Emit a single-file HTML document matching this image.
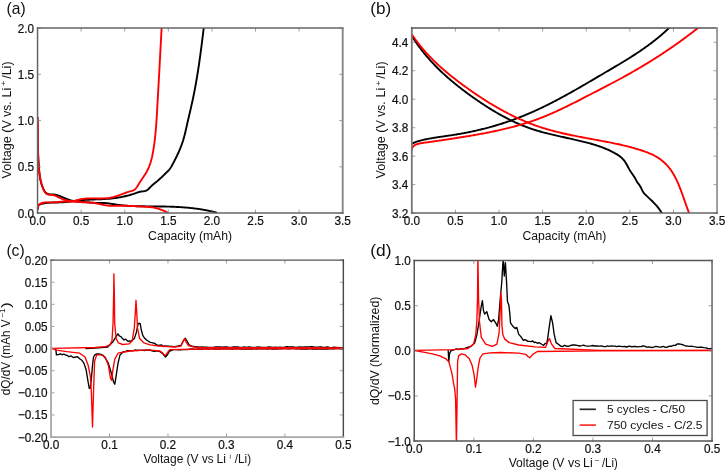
<!DOCTYPE html>
<html><head><meta charset="utf-8"><style>html,body{margin:0;padding:0;background:#fff;width:725px;height:471px;overflow:hidden}</style></head><body>
<svg style="display:block;will-change:transform;filter:blur(0.3px)" width="725" height="471" viewBox="0 0 725 471">
<rect width="725" height="471" fill="#fff"/>
<defs>
<clipPath id="ca"><rect x="37.55" y="28.05" width="305.15" height="185.04999999999998"/></clipPath>
<clipPath id="cb"><rect x="411.8" y="28.05" width="305.24999999999994" height="185.04999999999998"/></clipPath>
<clipPath id="cc"><rect x="51.05" y="260.1" width="292.3" height="176.95"/></clipPath>
<clipPath id="cd"><rect x="414.25" y="260.6" width="297.79999999999995" height="180.45"/></clipPath>
</defs>
<g fill="none" stroke-linejoin="round" stroke-linecap="round">
<g clip-path="url(#ca)" stroke-width="1.9">
<path d="M37.50,117.60 L37.50,118.44 L37.50,119.27 L37.49,120.11 L37.49,120.95 L37.49,121.78 L37.49,122.62 L37.50,123.46 L37.50,124.29 L37.50,125.13 L37.50,125.96 L37.51,126.79 L37.51,127.63 L37.52,128.46 L37.52,129.30 L37.53,130.13 L37.54,130.96 L37.55,131.79 L37.56,132.63 L37.57,133.46 L37.58,134.29 L37.59,135.12 L37.60,135.95 L37.62,136.79 L37.63,137.62 L37.65,138.45 L37.66,139.28 L37.68,140.11 L37.70,140.94 L37.72,141.77 L37.74,142.60 L37.76,143.43 L37.79,144.26 L37.81,145.09 L37.84,145.93 L37.86,146.76 L37.89,147.59 L37.92,148.42 L37.95,149.25 L37.98,150.08 L38.01,150.91 L38.04,151.74 L38.08,152.57 L38.11,153.40 L38.15,154.23 L38.19,155.06 L38.23,155.89 L38.27,156.72 L38.31,157.55 L38.35,158.38 L38.40,159.21 L38.44,160.04 L38.49,160.88 L38.54,161.71 L38.59,162.54 L38.64,163.37 L38.69,164.20 L38.75,165.03 L38.80,165.87 L38.86,166.70 L38.92,167.53 L38.98,168.36 L39.05,169.20 L39.11,170.03 L39.19,170.86 L39.26,171.69 L39.34,172.53 L39.43,173.36 L39.53,174.18 L39.63,175.01 L39.74,175.84 L39.86,176.66 L39.99,177.49 L40.13,178.31 L40.29,179.13 L40.45,179.95 L40.63,180.76 L40.82,181.58 L41.03,182.39 L41.25,183.19 L41.48,184.00 L41.74,184.80 L42.01,185.60 L42.30,186.40 L42.60,187.19 L42.93,187.97 L43.28,188.76 L43.64,189.53 L44.04,190.29 L44.47,191.01 L44.93,191.69 L45.43,192.31 L45.98,192.86 L46.57,193.33 L47.22,193.71 L47.93,193.99 L48.68,194.17 L49.48,194.29 L50.31,194.35 L51.16,194.39 L52.02,194.42 L52.87,194.46 L53.72,194.54 L54.56,194.65 L55.38,194.80 L56.20,194.98 L57.00,195.19 L57.80,195.43 L58.59,195.69 L59.38,195.96 L60.16,196.26 L60.94,196.56 L61.71,196.88 L62.49,197.20 L63.26,197.52 L64.03,197.85 L64.81,198.17 L65.59,198.49 L66.37,198.79 L67.15,199.09 L67.94,199.38 L68.73,199.65 L69.52,199.91 L70.32,200.14 L71.12,200.36 L71.92,200.56 L72.73,200.75 L73.54,200.91 L74.35,201.07 L75.17,201.21 L75.99,201.33 L76.81,201.45 L77.63,201.55 L78.46,201.65 L79.28,201.73 L80.11,201.81 L80.94,201.88 L81.77,201.95 L82.61,202.01 L83.44,202.06 L84.27,202.12 L85.10,202.17 L85.94,202.22 L86.77,202.27 L87.60,202.33 L88.44,202.39 L89.27,202.44 L90.10,202.51 L90.93,202.58 L91.76,202.65 L92.59,202.72 L93.42,202.79 L94.24,202.86 L95.07,202.91 L95.90,202.96 L96.73,202.99 L97.57,203.00 L98.40,203.01 L99.23,203.00 L100.07,202.98 L100.90,202.97 L101.74,202.96 L102.57,202.96 L103.40,202.97 L104.23,203.00 L105.06,203.05 L105.89,203.13 L106.71,203.21 L107.54,203.31 L108.36,203.42 L109.18,203.54 L110.01,203.66 L110.83,203.78 L111.65,203.90 L112.48,204.01 L113.30,204.13 L114.13,204.25 L114.95,204.37 L115.78,204.48 L116.60,204.60 L117.43,204.71 L118.25,204.82 L119.08,204.92 L119.91,205.03 L120.73,205.13 L121.56,205.23 L122.39,205.32 L123.22,205.41 L124.05,205.50 L124.87,205.58 L125.70,205.65 L126.53,205.72 L127.36,205.79 L128.19,205.85 L129.02,205.90 L129.85,205.95 L130.68,206.00 L131.51,206.04 L132.34,206.07 L133.17,206.11 L134.00,206.14 L134.83,206.16 L135.66,206.19 L136.49,206.21 L137.33,206.23 L138.16,206.24 L138.99,206.26 L139.82,206.27 L140.65,206.28 L141.49,206.29 L142.32,206.30 L143.15,206.30 L143.99,206.31 L144.82,206.32 L145.65,206.33 L146.49,206.33 L147.32,206.34 L148.15,206.35 L148.99,206.35 L149.82,206.36 L150.66,206.36 L151.49,206.37 L152.32,206.38 L153.16,206.38 L153.99,206.39 L154.83,206.40 L155.66,206.41 L156.50,206.41 L157.33,206.42 L158.17,206.43 L159.00,206.44 L159.84,206.46 L160.67,206.47 L161.50,206.48 L162.34,206.49 L163.17,206.51 L164.01,206.52 L164.84,206.54 L165.68,206.56 L166.51,206.58 L167.35,206.60 L168.18,206.62 L169.01,206.65 L169.85,206.67 L170.68,206.70 L171.51,206.73 L172.35,206.76 L173.18,206.79 L174.01,206.82 L174.85,206.86 L175.68,206.90 L176.51,206.94 L177.34,206.98 L178.17,207.02 L179.01,207.07 L179.84,207.12 L180.67,207.17 L181.50,207.22 L182.33,207.28 L183.16,207.34 L183.99,207.40 L184.82,207.46 L185.65,207.53 L186.48,207.60 L187.31,207.67 L188.13,207.75 L188.96,207.82 L189.79,207.91 L190.62,207.99 L191.44,208.08 L192.27,208.17 L193.10,208.26 L193.92,208.36 L194.75,208.46 L195.57,208.57 L196.39,208.67 L197.22,208.79 L198.04,208.90 L198.86,209.02 L199.69,209.14 L200.51,209.27 L201.33,209.40 L202.15,209.54 L202.97,209.68 L203.79,209.82 L204.61,209.97 L205.43,210.12 L206.24,210.27 L207.06,210.43 L207.88,210.60 L208.69,210.77 L209.51,210.94 L210.32,211.12 L211.14,211.30 L211.95,211.49 L212.76,211.69 L213.58,211.88 L214.39,212.09 L215.20,212.29 L216.01,212.51" stroke="#000"/>
<path d="M37.80,208.82 L37.70,207.48 L37.89,206.42 L38.31,205.60 L38.93,204.97 L39.69,204.51 L40.55,204.16 L41.48,203.89 L42.42,203.66 L43.36,203.46 L44.32,203.28 L45.27,203.12 L46.23,202.99 L47.20,202.88 L48.17,202.78 L49.14,202.71 L50.11,202.64 L51.09,202.59 L52.07,202.55 L53.05,202.52 L54.03,202.49 L55.01,202.47 L56.00,202.46 L56.98,202.44 L57.97,202.43 L58.95,202.41 L59.94,202.39 L60.92,202.37 L61.90,202.33 L62.89,202.29 L63.86,202.24 L64.84,202.17 L65.82,202.09 L66.79,202.00 L67.76,201.90 L68.73,201.80 L69.70,201.68 L70.66,201.56 L71.63,201.43 L72.59,201.31 L73.56,201.18 L74.52,201.04 L75.49,200.91 L76.45,200.79 L77.42,200.66 L78.38,200.54 L79.35,200.43 L80.32,200.32 L81.29,200.22 L82.26,200.13 L83.23,200.05 L84.20,199.97 L85.17,199.90 L86.15,199.84 L87.12,199.78 L88.10,199.72 L89.07,199.68 L90.05,199.63 L91.03,199.59 L92.01,199.55 L92.98,199.51 L93.96,199.48 L94.94,199.45 L95.92,199.41 L96.90,199.38 L97.88,199.34 L98.86,199.31 L99.84,199.27 L100.82,199.23 L101.79,199.19 L102.77,199.15 L103.75,199.10 L104.73,199.05 L105.70,198.99 L106.68,198.92 L107.65,198.85 L108.63,198.78 L109.60,198.69 L110.57,198.60 L111.55,198.50 L112.52,198.40 L113.48,198.28 L114.45,198.16 L115.42,198.03 L116.38,197.89 L117.35,197.74 L118.31,197.58 L119.27,197.42 L120.23,197.25 L121.19,197.06 L122.14,196.87 L123.09,196.67 L124.04,196.47 L124.99,196.25 L125.94,196.03 L126.89,195.79 L127.83,195.55 L128.77,195.30 L129.70,195.04 L130.64,194.77 L131.57,194.49 L132.50,194.20 L133.43,193.91 L134.35,193.60 L135.27,193.29 L136.19,192.96 L137.11,192.63 L138.02,192.30 L138.95,192.00 L139.89,191.75 L140.85,191.56 L141.83,191.44 L142.82,191.35 L143.80,191.25 L144.75,191.09 L145.66,190.85 L146.51,190.48 L147.30,189.99 L148.05,189.40 L148.77,188.74 L149.47,188.03 L150.16,187.30 L150.86,186.56 L151.57,185.85 L152.30,185.18 L153.04,184.54 L153.80,183.91 L154.56,183.30 L155.33,182.70 L156.09,182.09 L156.85,181.48 L157.60,180.86 L158.34,180.22 L159.07,179.58 L159.79,178.93 L160.51,178.27 L161.23,177.61 L161.94,176.94 L162.64,176.26 L163.35,175.58 L164.05,174.90 L164.75,174.22 L165.45,173.53 L166.15,172.85 L166.85,172.16 L167.54,171.47 L168.22,170.77 L168.87,170.05 L169.49,169.30 L170.07,168.53 L170.62,167.73 L171.14,166.91 L171.63,166.07 L172.10,165.22 L172.57,164.36 L173.03,163.50 L173.49,162.63 L173.95,161.77 L174.40,160.90 L174.85,160.03 L175.30,159.16 L175.74,158.28 L176.17,157.41 L176.60,156.53 L177.03,155.65 L177.44,154.76 L177.86,153.88 L178.27,152.99 L178.67,152.10 L179.06,151.20 L179.45,150.31 L179.83,149.41 L180.20,148.50 L180.56,147.60 L180.92,146.69 L181.27,145.78 L181.61,144.87 L181.94,143.95 L182.26,143.03 L182.57,142.10 L182.87,141.18 L183.17,140.25 L183.45,139.31 L183.72,138.38 L183.98,137.44 L184.24,136.50 L184.49,135.55 L184.73,134.61 L184.97,133.66 L185.20,132.71 L185.43,131.76 L185.65,130.81 L185.87,129.86 L186.08,128.90 L186.30,127.95 L186.51,126.99 L186.72,126.04 L186.93,125.08 L187.15,124.13 L187.36,123.17 L187.58,122.22 L187.80,121.27 L188.01,120.31 L188.23,119.36 L188.46,118.41 L188.68,117.46 L188.90,116.51 L189.12,115.56 L189.35,114.61 L189.57,113.66 L189.79,112.71 L190.02,111.76 L190.24,110.81 L190.46,109.86 L190.68,108.91 L190.90,107.96 L191.12,107.01 L191.33,106.06 L191.55,105.11 L191.76,104.15 L191.97,103.20 L192.18,102.25 L192.39,101.30 L192.60,100.34 L192.80,99.39 L193.00,98.43 L193.20,97.48 L193.39,96.52 L193.59,95.57 L193.78,94.61 L193.97,93.65 L194.16,92.70 L194.35,91.74 L194.53,90.78 L194.72,89.82 L194.90,88.86 L195.08,87.90 L195.26,86.94 L195.43,85.98 L195.61,85.02 L195.78,84.06 L195.95,83.10 L196.12,82.14 L196.29,81.17 L196.46,80.21 L196.62,79.25 L196.79,78.28 L196.95,77.32 L197.11,76.36 L197.27,75.39 L197.42,74.43 L197.58,73.46 L197.73,72.50 L197.89,71.53 L198.04,70.57 L198.19,69.60 L198.34,68.64 L198.49,67.67 L198.63,66.71 L198.78,65.74 L198.92,64.77 L199.06,63.81 L199.21,62.84 L199.35,61.87 L199.49,60.90 L199.62,59.94 L199.76,58.97 L199.90,58.00 L200.03,57.03 L200.17,56.06 L200.30,55.10 L200.43,54.13 L200.56,53.16 L200.69,52.19 L200.82,51.22 L200.95,50.25 L201.08,49.29 L201.20,48.32 L201.33,47.35 L201.45,46.38 L201.58,45.41 L201.70,44.44 L201.83,43.47 L201.95,42.50 L202.07,41.53 L202.19,40.57 L202.31,39.60 L202.43,38.63 L202.55,37.66 L202.67,36.69 L202.79,35.72 L202.90,34.75 L203.02,33.78 L203.14,32.82 L203.25,31.85 L203.37,30.88 L203.48,29.91 L203.60,28.94 L203.71,27.97 L203.83,27.01" stroke="#000"/>
<path d="M37.49,117.60 L37.54,118.26 L37.58,118.91 L37.62,119.57 L37.65,120.23 L37.68,120.89 L37.71,121.55 L37.74,122.21 L37.77,122.88 L37.79,123.54 L37.81,124.20 L37.83,124.87 L37.85,125.54 L37.87,126.20 L37.88,126.87 L37.90,127.54 L37.91,128.21 L37.92,128.88 L37.93,129.55 L37.94,130.22 L37.94,130.89 L37.95,131.57 L37.95,132.24 L37.96,132.91 L37.96,133.59 L37.96,134.26 L37.96,134.94 L37.96,135.61 L37.96,136.29 L37.96,136.97 L37.96,137.64 L37.96,138.32 L37.96,139.00 L37.95,139.68 L37.95,140.36 L37.95,141.04 L37.95,141.71 L37.95,142.39 L37.95,143.07 L37.95,143.75 L37.95,144.43 L37.95,145.11 L37.95,145.79 L37.95,146.47 L37.95,147.15 L37.95,147.83 L37.96,148.51 L37.96,149.19 L37.97,149.87 L37.97,150.55 L37.98,151.23 L37.99,151.90 L38.00,152.58 L38.02,153.26 L38.03,153.94 L38.05,154.62 L38.06,155.30 L38.08,155.97 L38.10,156.65 L38.13,157.33 L38.15,158.00 L38.18,158.68 L38.21,159.35 L38.24,160.03 L38.27,160.70 L38.31,161.37 L38.35,162.05 L38.39,162.72 L38.44,163.39 L38.48,164.06 L38.53,164.73 L38.59,165.40 L38.64,166.07 L38.70,166.74 L38.76,167.41 L38.83,168.07 L38.90,168.74 L38.97,169.40 L39.04,170.07 L39.12,170.73 L39.21,171.39 L39.29,172.05 L39.38,172.71 L39.48,173.37 L39.58,174.03 L39.68,174.69 L39.78,175.34 L39.90,176.00 L40.01,176.65 L40.13,177.30 L40.25,177.95 L40.38,178.60 L40.52,179.25 L40.65,179.90 L40.80,180.54 L40.94,181.19 L41.10,181.83 L41.26,182.48 L41.43,183.12 L41.60,183.77 L41.79,184.42 L41.98,185.07 L42.18,185.72 L42.39,186.37 L42.61,187.03 L42.85,187.70 L43.09,188.36 L43.35,189.03 L43.62,189.70 L43.92,190.36 L44.23,191.00 L44.57,191.61 L44.93,192.18 L45.33,192.71 L45.76,193.18 L46.22,193.60 L46.73,193.95 L47.27,194.23 L47.85,194.45 L48.46,194.61 L49.10,194.73 L49.76,194.81 L50.44,194.87 L51.12,194.92 L51.81,194.98 L52.50,195.05 L53.17,195.16 L53.83,195.31 L54.48,195.49 L55.11,195.71 L55.74,195.96 L56.36,196.22 L56.98,196.50 L57.59,196.78 L58.20,197.07 L58.81,197.36 L59.42,197.65 L60.03,197.94 L60.64,198.22 L61.26,198.50 L61.88,198.77 L62.50,199.04 L63.12,199.29 L63.74,199.53 L64.38,199.75 L65.01,199.97 L65.65,200.16 L66.29,200.35 L66.94,200.52 L67.59,200.68 L68.25,200.83 L68.90,200.96 L69.56,201.09 L70.22,201.21 L70.89,201.31 L71.55,201.41 L72.22,201.50 L72.89,201.58 L73.56,201.66 L74.23,201.73 L74.90,201.79 L75.57,201.85 L76.24,201.90 L76.91,201.94 L77.59,201.99 L78.26,202.03 L78.93,202.06 L79.61,202.09 L80.28,202.12 L80.96,202.15 L81.63,202.18 L82.30,202.21 L82.98,202.23 L83.65,202.26 L84.33,202.28 L85.00,202.31 L85.67,202.34 L86.35,202.37 L87.02,202.40 L87.69,202.43 L88.36,202.47 L89.03,202.51 L89.70,202.56 L90.37,202.61 L91.04,202.66 L91.71,202.72 L92.38,202.79 L93.04,202.86 L93.71,202.94 L94.37,203.03 L95.04,203.12 L95.70,203.22 L96.36,203.34 L97.02,203.46 L97.68,203.59 L98.34,203.72 L98.99,203.87 L99.65,204.02 L100.30,204.17 L100.96,204.32 L101.61,204.47 L102.27,204.63 L102.92,204.77 L103.58,204.92 L104.23,205.06 L104.89,205.19 L105.55,205.31 L106.20,205.42 L106.86,205.52 L107.53,205.60 L108.19,205.67 L108.85,205.73 L109.52,205.77 L110.18,205.81 L110.85,205.83 L111.52,205.85 L112.19,205.86 L112.86,205.86 L113.53,205.86 L114.20,205.85 L114.87,205.84 L115.54,205.83 L116.22,205.82 L116.89,205.80 L117.56,205.79 L118.23,205.78 L118.91,205.77 L119.58,205.76 L120.25,205.75 L120.93,205.75 L121.60,205.75 L122.27,205.75 L122.94,205.76 L123.62,205.76 L124.29,205.77 L124.96,205.78 L125.63,205.79 L126.31,205.81 L126.98,205.82 L127.65,205.84 L128.32,205.86 L129.00,205.88 L129.67,205.90 L130.34,205.93 L131.01,205.95 L131.68,205.98 L132.36,206.01 L133.03,206.04 L133.70,206.07 L134.37,206.10 L135.05,206.13 L135.72,206.17 L136.39,206.21 L137.06,206.24 L137.73,206.28 L138.40,206.32 L139.08,206.36 L139.75,206.40 L140.42,206.45 L141.09,206.49 L141.76,206.53 L142.43,206.58 L143.10,206.62 L143.78,206.67 L144.45,206.72 L145.12,206.76 L145.79,206.81 L146.46,206.86 L147.13,206.91 L147.80,206.96 L148.47,207.01 L149.14,207.06 L149.81,207.11 L150.48,207.17 L151.15,207.23 L151.82,207.31 L152.48,207.39 L153.15,207.48 L153.81,207.59 L154.47,207.71 L155.13,207.84 L155.78,207.99 L156.43,208.16 L157.08,208.34 L157.73,208.53 L158.37,208.74 L159.01,208.95 L159.65,209.18 L160.28,209.41 L160.92,209.66 L161.55,209.91 L162.18,210.16 L162.80,210.42 L163.42,210.69 L164.04,210.96 L164.66,211.22 L165.27,211.49 L165.88,211.76 L166.49,212.03 L167.10,212.30" stroke="#f00"/>
<path d="M37.74,208.81 L37.78,207.73 L37.98,206.78 L38.30,205.94 L38.74,205.21 L39.27,204.58 L39.87,204.05 L40.55,203.61 L41.27,203.25 L42.05,202.97 L42.88,202.75 L43.74,202.59 L44.63,202.48 L45.56,202.41 L46.50,202.37 L47.46,202.35 L48.43,202.36 L49.40,202.37 L50.37,202.38 L51.34,202.38 L52.29,202.36 L53.22,202.33 L54.14,202.28 L55.05,202.23 L55.95,202.16 L56.84,202.08 L57.73,202.00 L58.61,201.92 L59.48,201.84 L60.36,201.76 L61.23,201.68 L62.11,201.62 L62.99,201.56 L63.88,201.52 L64.77,201.50 L65.67,201.48 L66.57,201.47 L67.47,201.46 L68.38,201.45 L69.28,201.42 L70.19,201.37 L71.09,201.31 L71.98,201.21 L72.87,201.09 L73.76,200.93 L74.64,200.74 L75.52,200.54 L76.39,200.32 L77.27,200.10 L78.14,199.87 L79.01,199.65 L79.89,199.45 L80.77,199.26 L81.65,199.10 L82.54,198.95 L83.43,198.83 L84.32,198.72 L85.22,198.63 L86.12,198.56 L87.02,198.50 L87.92,198.45 L88.82,198.42 L89.73,198.40 L90.64,198.38 L91.55,198.38 L92.45,198.38 L93.36,198.38 L94.27,198.39 L95.18,198.40 L96.09,198.41 L97.00,198.43 L97.91,198.44 L98.82,198.44 L99.73,198.45 L100.63,198.45 L101.54,198.44 L102.44,198.42 L103.34,198.40 L104.23,198.36 L105.13,198.31 L106.02,198.25 L106.91,198.18 L107.79,198.09 L108.68,197.98 L109.55,197.85 L110.43,197.70 L111.30,197.53 L112.16,197.35 L113.02,197.14 L113.88,196.92 L114.74,196.68 L115.60,196.43 L116.45,196.16 L117.30,195.88 L118.15,195.59 L119.00,195.28 L119.85,194.97 L120.70,194.66 L121.55,194.34 L122.40,194.02 L123.25,193.70 L124.10,193.38 L124.95,193.07 L125.80,192.76 L126.65,192.46 L127.51,192.17 L128.37,191.89 L129.23,191.62 L130.09,191.38 L130.95,191.14 L131.81,190.90 L132.63,190.63 L133.42,190.30 L134.15,189.90 L134.82,189.41 L135.44,188.84 L136.01,188.20 L136.55,187.51 L137.06,186.78 L137.55,186.01 L138.03,185.22 L138.51,184.43 L138.99,183.64 L139.48,182.86 L139.98,182.08 L140.49,181.31 L140.99,180.55 L141.50,179.79 L142.01,179.03 L142.52,178.27 L143.03,177.52 L143.53,176.76 L144.03,176.01 L144.52,175.25 L145.01,174.49 L145.48,173.73 L145.95,172.96 L146.40,172.19 L146.84,171.41 L147.26,170.62 L147.66,169.83 L148.05,169.03 L148.42,168.22 L148.78,167.40 L149.12,166.58 L149.44,165.75 L149.75,164.91 L150.05,164.07 L150.33,163.22 L150.60,162.37 L150.86,161.51 L151.10,160.64 L151.34,159.77 L151.56,158.90 L151.78,158.03 L151.98,157.15 L152.18,156.27 L152.36,155.38 L152.54,154.49 L152.72,153.61 L152.88,152.71 L153.04,151.82 L153.20,150.93 L153.35,150.04 L153.50,149.15 L153.64,148.25 L153.78,147.36 L153.91,146.47 L154.04,145.57 L154.17,144.68 L154.29,143.79 L154.41,142.89 L154.52,142.00 L154.64,141.10 L154.74,140.21 L154.85,139.32 L154.95,138.42 L155.05,137.53 L155.15,136.63 L155.24,135.74 L155.34,134.84 L155.42,133.95 L155.51,133.05 L155.59,132.16 L155.67,131.26 L155.75,130.37 L155.83,129.47 L155.91,128.58 L155.98,127.68 L156.05,126.79 L156.12,125.89 L156.18,125.00 L156.25,124.10 L156.31,123.21 L156.38,122.31 L156.44,121.41 L156.50,120.52 L156.56,119.62 L156.61,118.72 L156.67,117.83 L156.72,116.93 L156.78,116.04 L156.83,115.14 L156.89,114.24 L156.94,113.35 L156.99,112.45 L157.04,111.55 L157.09,110.65 L157.15,109.76 L157.20,108.86 L157.25,107.96 L157.30,107.06 L157.35,106.17 L157.40,105.27 L157.45,104.37 L157.50,103.47 L157.55,102.58 L157.60,101.68 L157.66,100.78 L157.71,99.88 L157.76,98.99 L157.81,98.09 L157.86,97.19 L157.91,96.29 L157.96,95.39 L158.01,94.49 L158.06,93.60 L158.11,92.70 L158.16,91.80 L158.21,90.90 L158.26,90.00 L158.31,89.10 L158.36,88.20 L158.41,87.31 L158.46,86.41 L158.51,85.51 L158.56,84.61 L158.61,83.71 L158.66,82.81 L158.71,81.91 L158.76,81.01 L158.81,80.12 L158.86,79.22 L158.91,78.32 L158.96,77.42 L159.01,76.52 L159.06,75.62 L159.11,74.72 L159.16,73.82 L159.21,72.92 L159.26,72.02 L159.31,71.13 L159.35,70.23 L159.40,69.33 L159.45,68.43 L159.50,67.53 L159.55,66.63 L159.60,65.73 L159.65,64.83 L159.70,63.93 L159.75,63.03 L159.80,62.14 L159.84,61.24 L159.89,60.34 L159.94,59.44 L159.99,58.54 L160.04,57.64 L160.09,56.74 L160.13,55.84 L160.18,54.94 L160.23,54.05 L160.28,53.15 L160.33,52.25 L160.38,51.35 L160.42,50.45 L160.47,49.55 L160.52,48.65 L160.57,47.76 L160.62,46.86 L160.66,45.96 L160.71,45.06 L160.76,44.16 L160.81,43.26 L160.85,42.37 L160.90,41.47 L160.95,40.57 L161.00,39.67 L161.04,38.77 L161.09,37.88 L161.14,36.98 L161.19,36.08 L161.23,35.18 L161.28,34.28 L161.33,33.39 L161.37,32.49 L161.42,31.59 L161.47,30.69 L161.51,29.80 L161.56,28.90 L161.61,28.00" stroke="#f00"/>
</g>
<g clip-path="url(#cb)" stroke-width="1.9">
<path d="M411.89,35.93 L412.45,36.84 L413.02,37.75 L413.60,38.66 L414.18,39.56 L414.77,40.45 L415.36,41.34 L415.96,42.23 L416.56,43.11 L417.17,43.99 L417.79,44.86 L418.41,45.73 L419.03,46.59 L419.66,47.45 L420.30,48.30 L420.94,49.15 L421.59,49.99 L422.24,50.83 L422.90,51.67 L423.56,52.50 L424.23,53.32 L424.90,54.15 L425.58,54.97 L426.26,55.78 L426.95,56.59 L427.64,57.39 L428.33,58.20 L429.03,58.99 L429.74,59.79 L430.45,60.58 L431.16,61.36 L431.88,62.14 L432.60,62.92 L433.33,63.69 L434.06,64.46 L434.79,65.23 L435.53,65.99 L436.28,66.74 L437.02,67.50 L437.77,68.25 L438.53,69.00 L439.29,69.74 L440.05,70.48 L440.82,71.21 L441.59,71.94 L442.36,72.67 L443.14,73.40 L443.92,74.12 L444.70,74.84 L445.49,75.55 L446.28,76.26 L447.08,76.97 L447.88,77.67 L448.68,78.37 L449.48,79.07 L450.29,79.77 L451.10,80.46 L451.91,81.14 L452.73,81.83 L453.55,82.51 L454.37,83.19 L455.20,83.86 L456.03,84.54 L456.86,85.21 L457.69,85.87 L458.53,86.54 L459.37,87.20 L460.21,87.85 L461.05,88.51 L461.90,89.16 L462.75,89.81 L463.60,90.46 L464.45,91.10 L465.31,91.74 L466.16,92.38 L467.02,93.02 L467.88,93.65 L468.75,94.28 L469.61,94.91 L470.48,95.53 L471.35,96.16 L472.22,96.78 L473.09,97.40 L473.97,98.01 L474.84,98.62 L475.72,99.24 L476.60,99.84 L477.48,100.45 L478.36,101.06 L479.25,101.66 L480.13,102.26 L481.02,102.85 L481.91,103.45 L482.80,104.04 L483.69,104.63 L484.59,105.21 L485.48,105.79 L486.38,106.37 L487.28,106.95 L488.18,107.52 L489.08,108.09 L489.99,108.66 L490.89,109.22 L491.80,109.78 L492.71,110.33 L493.62,110.88 L494.54,111.43 L495.45,111.97 L496.37,112.51 L497.29,113.05 L498.21,113.58 L499.14,114.11 L500.06,114.63 L500.99,115.15 L501.92,115.66 L502.85,116.17 L503.79,116.68 L504.73,117.18 L505.66,117.67 L506.60,118.17 L507.55,118.65 L508.49,119.13 L509.44,119.61 L510.39,120.08 L511.34,120.55 L512.30,121.01 L513.25,121.46 L514.21,121.91 L515.17,122.36 L516.14,122.79 L517.11,123.23 L518.07,123.65 L519.05,124.07 L520.02,124.49 L521.00,124.90 L521.97,125.30 L522.96,125.70 L523.94,126.09 L524.93,126.48 L525.91,126.85 L526.91,127.23 L527.90,127.59 L528.90,127.95 L529.90,128.30 L530.90,128.65 L531.90,128.99 L532.91,129.32 L533.92,129.65 L534.93,129.97 L535.95,130.28 L536.97,130.59 L537.98,130.89 L539.01,131.19 L540.03,131.48 L541.05,131.77 L542.08,132.06 L543.11,132.33 L544.14,132.61 L545.17,132.88 L546.21,133.15 L547.24,133.41 L548.28,133.67 L549.31,133.93 L550.35,134.18 L551.39,134.43 L552.43,134.68 L553.48,134.93 L554.52,135.17 L555.56,135.41 L556.61,135.65 L557.65,135.89 L558.70,136.12 L559.75,136.36 L560.79,136.59 L561.84,136.82 L562.89,137.05 L563.93,137.28 L564.98,137.52 L566.03,137.75 L567.08,137.98 L568.13,138.21 L569.17,138.44 L570.22,138.67 L571.27,138.90 L572.31,139.13 L573.36,139.37 L574.41,139.61 L575.45,139.84 L576.49,140.08 L577.54,140.32 L578.58,140.57 L579.62,140.81 L580.66,141.06 L581.70,141.31 L582.74,141.56 L583.78,141.82 L584.81,142.08 L585.84,142.35 L586.88,142.61 L587.91,142.89 L588.94,143.16 L589.96,143.45 L590.99,143.73 L592.01,144.03 L593.03,144.33 L594.05,144.63 L595.06,144.94 L596.07,145.26 L597.08,145.59 L598.09,145.92 L599.09,146.27 L600.09,146.62 L601.09,146.97 L602.08,147.34 L603.07,147.72 L604.06,148.10 L605.04,148.50 L606.02,148.90 L606.99,149.32 L607.96,149.74 L608.93,150.18 L609.89,150.63 L610.85,151.09 L611.80,151.56 L612.75,152.05 L613.70,152.54 L614.63,153.05 L615.57,153.57 L616.49,154.11 L617.41,154.67 L618.30,155.25 L619.18,155.85 L620.03,156.48 L620.86,157.13 L621.66,157.82 L622.42,158.55 L623.14,159.31 L623.82,160.11 L624.46,160.95 L625.07,161.82 L625.64,162.72 L626.19,163.65 L626.72,164.59 L627.23,165.54 L627.74,166.50 L628.25,167.46 L628.77,168.42 L629.30,169.36 L629.84,170.28 L630.41,171.19 L630.99,172.07 L631.59,172.95 L632.19,173.81 L632.80,174.68 L633.40,175.55 L633.98,176.42 L634.55,177.31 L635.10,178.22 L635.61,179.15 L636.10,180.11 L636.60,181.06 L637.14,181.97 L637.75,182.83 L638.39,183.67 L639.02,184.51 L639.62,185.38 L640.18,186.28 L640.71,187.21 L641.20,188.16 L641.66,189.13 L642.12,190.09 L642.60,191.05 L643.13,191.96 L643.73,192.83 L644.39,193.65 L645.12,194.42 L645.88,195.17 L646.65,195.90 L647.43,196.63 L648.22,197.37 L649.00,198.10 L649.78,198.83 L650.55,199.57 L651.33,200.31 L652.09,201.05 L652.85,201.80 L653.60,202.56 L654.34,203.33 L655.07,204.10 L655.79,204.88 L656.50,205.68 L657.19,206.49 L657.86,207.31 L658.52,208.14 L659.15,208.99 L659.77,209.85 L660.37,210.74 L660.94,211.64 L661.49,212.56 L662.01,213.50" stroke="#000"/>
<path d="M411.80,143.92 L412.58,143.47 L413.37,143.06 L414.19,142.67 L415.03,142.31 L415.88,141.97 L416.75,141.65 L417.63,141.35 L418.53,141.07 L419.43,140.81 L420.34,140.56 L421.26,140.33 L422.19,140.10 L423.12,139.89 L424.05,139.68 L424.99,139.48 L425.93,139.29 L426.87,139.10 L427.81,138.92 L428.75,138.74 L429.69,138.56 L430.63,138.39 L431.58,138.23 L432.52,138.07 L433.47,137.91 L434.42,137.75 L435.36,137.60 L436.31,137.45 L437.26,137.31 L438.21,137.16 L439.16,137.02 L440.12,136.88 L441.07,136.74 L442.02,136.60 L442.97,136.46 L443.93,136.33 L444.88,136.19 L445.83,136.05 L446.79,135.92 L447.74,135.78 L448.69,135.64 L449.65,135.50 L450.60,135.36 L451.55,135.22 L452.50,135.07 L453.46,134.93 L454.41,134.78 L455.36,134.63 L456.31,134.47 L457.26,134.31 L458.21,134.15 L459.16,133.99 L460.11,133.83 L461.06,133.66 L462.01,133.49 L462.95,133.31 L463.90,133.14 L464.85,132.96 L465.79,132.77 L466.74,132.59 L467.68,132.40 L468.63,132.21 L469.57,132.02 L470.51,131.82 L471.45,131.63 L472.40,131.42 L473.34,131.22 L474.28,131.01 L475.22,130.81 L476.15,130.59 L477.09,130.38 L478.03,130.16 L478.97,129.94 L479.90,129.72 L480.84,129.49 L481.77,129.26 L482.71,129.03 L483.64,128.80 L484.57,128.56 L485.50,128.32 L486.43,128.08 L487.36,127.83 L488.29,127.58 L489.22,127.33 L490.15,127.08 L491.07,126.82 L492.00,126.56 L492.92,126.30 L493.84,126.03 L494.77,125.77 L495.69,125.49 L496.61,125.22 L497.53,124.94 L498.45,124.66 L499.37,124.38 L500.28,124.10 L501.20,123.81 L502.12,123.52 L503.03,123.23 L503.94,122.93 L504.85,122.63 L505.77,122.33 L506.68,122.02 L507.58,121.72 L508.49,121.41 L509.40,121.09 L510.31,120.78 L511.21,120.46 L512.11,120.13 L513.02,119.81 L513.92,119.48 L514.82,119.15 L515.72,118.82 L516.61,118.48 L517.51,118.14 L518.41,117.80 L519.30,117.46 L520.19,117.11 L521.09,116.76 L521.98,116.40 L522.87,116.05 L523.76,115.69 L524.64,115.32 L525.53,114.96 L526.41,114.59 L527.30,114.22 L528.18,113.85 L529.06,113.47 L529.94,113.09 L530.82,112.71 L531.70,112.32 L532.57,111.94 L533.45,111.55 L534.32,111.16 L535.20,110.76 L536.07,110.36 L536.94,109.96 L537.81,109.56 L538.68,109.16 L539.55,108.75 L540.41,108.34 L541.28,107.93 L542.14,107.52 L543.01,107.10 L543.87,106.68 L544.73,106.26 L545.59,105.84 L546.45,105.41 L547.31,104.99 L548.17,104.56 L549.03,104.13 L549.89,103.70 L550.74,103.26 L551.60,102.83 L552.45,102.39 L553.30,101.95 L554.16,101.51 L555.01,101.06 L555.86,100.62 L556.71,100.17 L557.56,99.72 L558.41,99.27 L559.25,98.82 L560.10,98.37 L560.95,97.91 L561.79,97.46 L562.64,97.00 L563.48,96.54 L564.33,96.08 L565.17,95.62 L566.01,95.15 L566.86,94.69 L567.70,94.22 L568.54,93.76 L569.38,93.29 L570.22,92.82 L571.06,92.35 L571.90,91.88 L572.73,91.41 L573.57,90.93 L574.41,90.46 L575.25,89.98 L576.08,89.51 L576.92,89.03 L577.75,88.55 L578.59,88.07 L579.42,87.59 L580.26,87.11 L581.09,86.63 L581.93,86.15 L582.76,85.67 L583.59,85.18 L584.42,84.70 L585.26,84.22 L586.09,83.73 L586.92,83.25 L587.75,82.76 L588.58,82.28 L589.41,81.79 L590.24,81.30 L591.07,80.82 L591.90,80.33 L592.73,79.84 L593.56,79.35 L594.39,78.87 L595.22,78.38 L596.05,77.89 L596.88,77.40 L597.71,76.91 L598.54,76.43 L599.37,75.94 L600.20,75.45 L601.03,74.96 L601.86,74.47 L602.69,73.99 L603.51,73.50 L604.34,73.01 L605.17,72.52 L606.00,72.04 L606.83,71.55 L607.66,71.06 L608.49,70.58 L609.32,70.09 L610.14,69.60 L610.97,69.11 L611.80,68.63 L612.63,68.14 L613.45,67.65 L614.28,67.16 L615.11,66.67 L615.93,66.18 L616.76,65.69 L617.58,65.20 L618.40,64.71 L619.23,64.22 L620.05,63.72 L620.87,63.23 L621.69,62.73 L622.51,62.24 L623.33,61.74 L624.15,61.24 L624.97,60.74 L625.78,60.24 L626.60,59.73 L627.41,59.23 L628.23,58.72 L629.04,58.22 L629.85,57.71 L630.66,57.20 L631.47,56.68 L632.28,56.17 L633.08,55.65 L633.89,55.14 L634.69,54.61 L635.50,54.09 L636.30,53.57 L637.10,53.04 L637.89,52.51 L638.69,51.98 L639.49,51.45 L640.28,50.91 L641.07,50.37 L641.86,49.83 L642.65,49.29 L643.43,48.74 L644.22,48.19 L645.00,47.64 L645.78,47.09 L646.56,46.53 L647.34,45.97 L648.11,45.41 L648.89,44.84 L649.66,44.27 L650.43,43.70 L651.19,43.12 L651.96,42.54 L652.72,41.96 L653.48,41.37 L654.24,40.78 L654.99,40.19 L655.75,39.59 L656.50,38.99 L657.25,38.38 L657.99,37.78 L658.74,37.16 L659.48,36.55 L660.21,35.93 L660.95,35.30 L661.68,34.67 L662.41,34.04 L663.14,33.40 L663.87,32.76 L664.59,32.11 L665.31,31.46 L666.02,30.81 L666.74,30.15 L667.45,29.48 L668.15,28.81 L668.86,28.14 L669.56,27.46" stroke="#000"/>
<path d="M411.88,34.45 L412.54,35.43 L413.20,36.40 L413.87,37.36 L414.54,38.32 L415.22,39.27 L415.91,40.21 L416.61,41.15 L417.31,42.08 L418.02,43.01 L418.73,43.93 L419.45,44.84 L420.18,45.75 L420.91,46.65 L421.65,47.55 L422.40,48.44 L423.15,49.32 L423.91,50.20 L424.67,51.07 L425.44,51.94 L426.22,52.80 L427.00,53.66 L427.79,54.51 L428.58,55.35 L429.38,56.19 L430.18,57.03 L430.99,57.86 L431.80,58.68 L432.62,59.50 L433.44,60.32 L434.27,61.13 L435.10,61.94 L435.94,62.74 L436.78,63.53 L437.62,64.32 L438.47,65.11 L439.33,65.89 L440.19,66.67 L441.05,67.45 L441.92,68.22 L442.79,68.98 L443.67,69.74 L444.54,70.50 L445.43,71.26 L446.31,72.01 L447.20,72.75 L448.10,73.49 L449.00,74.23 L449.90,74.97 L450.80,75.70 L451.71,76.43 L452.62,77.15 L453.53,77.87 L454.45,78.59 L455.37,79.31 L456.29,80.02 L457.21,80.73 L458.14,81.43 L459.07,82.14 L460.00,82.84 L460.94,83.53 L461.87,84.23 L462.81,84.92 L463.76,85.61 L464.70,86.30 L465.64,86.98 L466.59,87.66 L467.54,88.34 L468.49,89.02 L469.44,89.69 L470.40,90.36 L471.35,91.03 L472.31,91.70 L473.27,92.37 L474.23,93.03 L475.20,93.69 L476.16,94.34 L477.13,94.99 L478.10,95.64 L479.07,96.29 L480.05,96.93 L481.02,97.57 L482.00,98.21 L482.98,98.85 L483.96,99.48 L484.94,100.10 L485.93,100.73 L486.92,101.35 L487.91,101.97 L488.90,102.58 L489.89,103.19 L490.89,103.79 L491.88,104.40 L492.88,105.00 L493.88,105.59 L494.89,106.18 L495.89,106.77 L496.90,107.35 L497.91,107.93 L498.92,108.50 L499.94,109.07 L500.95,109.64 L501.97,110.20 L502.99,110.76 L504.01,111.31 L505.04,111.86 L506.06,112.40 L507.09,112.94 L508.12,113.47 L509.16,114.00 L510.19,114.53 L511.23,115.05 L512.27,115.56 L513.31,116.07 L514.35,116.58 L515.40,117.08 L516.45,117.57 L517.50,118.06 L518.55,118.54 L519.61,119.02 L520.67,119.50 L521.73,119.96 L522.79,120.43 L523.85,120.88 L524.92,121.34 L525.99,121.78 L527.06,122.22 L528.13,122.66 L529.21,123.09 L530.29,123.51 L531.37,123.92 L532.45,124.34 L533.54,124.74 L534.62,125.14 L535.71,125.53 L536.81,125.92 L537.90,126.30 L539.00,126.67 L540.10,127.04 L541.20,127.40 L542.30,127.75 L543.41,128.10 L544.52,128.45 L545.63,128.78 L546.74,129.11 L547.86,129.44 L548.98,129.76 L550.09,130.07 L551.22,130.38 L552.34,130.69 L553.46,130.99 L554.59,131.28 L555.72,131.57 L556.85,131.86 L557.98,132.14 L559.11,132.41 L560.24,132.69 L561.38,132.95 L562.52,133.22 L563.65,133.48 L564.79,133.74 L565.93,133.99 L567.08,134.24 L568.22,134.49 L569.36,134.73 L570.50,134.98 L571.65,135.21 L572.80,135.45 L573.94,135.68 L575.09,135.92 L576.24,136.14 L577.38,136.37 L578.53,136.60 L579.68,136.82 L580.83,137.04 L581.98,137.26 L583.13,137.48 L584.28,137.70 L585.43,137.91 L586.58,138.13 L587.73,138.34 L588.88,138.55 L590.03,138.77 L591.18,138.98 L592.33,139.19 L593.48,139.40 L594.63,139.61 L595.78,139.83 L596.93,140.04 L598.08,140.25 L599.23,140.46 L600.37,140.67 L601.52,140.89 L602.66,141.10 L603.81,141.32 L604.95,141.54 L606.10,141.75 L607.24,141.97 L608.38,142.19 L609.52,142.42 L610.66,142.64 L611.80,142.87 L612.93,143.10 L614.07,143.33 L615.21,143.57 L616.34,143.81 L617.47,144.05 L618.61,144.30 L619.74,144.55 L620.87,144.80 L622.00,145.06 L623.13,145.32 L624.26,145.59 L625.38,145.86 L626.51,146.13 L627.64,146.41 L628.76,146.70 L629.88,146.99 L631.01,147.29 L632.13,147.60 L633.25,147.91 L634.37,148.22 L635.49,148.55 L636.60,148.88 L637.72,149.22 L638.84,149.56 L639.95,149.91 L641.06,150.27 L642.18,150.64 L643.29,151.02 L644.40,151.40 L645.50,151.80 L646.60,152.21 L647.70,152.63 L648.79,153.06 L649.87,153.51 L650.94,153.98 L652.00,154.46 L653.05,154.96 L654.09,155.48 L655.11,156.02 L656.12,156.58 L657.12,157.17 L658.10,157.77 L659.06,158.41 L660.00,159.06 L660.93,159.74 L661.83,160.44 L662.72,161.17 L663.59,161.92 L664.44,162.69 L665.27,163.48 L666.09,164.29 L666.88,165.12 L667.65,165.98 L668.40,166.85 L669.13,167.74 L669.84,168.65 L670.53,169.58 L671.19,170.53 L671.84,171.49 L672.47,172.47 L673.08,173.46 L673.67,174.46 L674.25,175.48 L674.80,176.51 L675.35,177.55 L675.88,178.60 L676.39,179.66 L676.90,180.73 L677.39,181.80 L677.87,182.88 L678.33,183.96 L678.79,185.05 L679.24,186.14 L679.68,187.24 L680.11,188.33 L680.54,189.43 L680.95,190.53 L681.36,191.63 L681.77,192.73 L682.17,193.83 L682.57,194.93 L682.96,196.03 L683.35,197.14 L683.74,198.24 L684.12,199.34 L684.50,200.44 L684.89,201.54 L685.27,202.63 L685.66,203.73 L686.04,204.82 L686.43,205.91 L686.82,206.99 L687.21,208.08 L687.60,209.16 L688.00,210.23 L688.41,211.31 L688.82,212.37 L689.24,213.44" stroke="#f00"/>
<path d="M411.50,150.54 L411.68,149.46 L411.97,148.49 L412.37,147.63 L412.87,146.87 L413.46,146.21 L414.13,145.63 L414.88,145.12 L415.70,144.69 L416.58,144.32 L417.51,144.00 L418.48,143.73 L419.50,143.50 L420.54,143.30 L421.60,143.13 L422.68,142.96 L423.76,142.81 L424.84,142.66 L425.92,142.51 L427.00,142.35 L428.08,142.20 L429.15,142.05 L430.23,141.90 L431.30,141.74 L432.37,141.59 L433.44,141.44 L434.51,141.28 L435.57,141.13 L436.64,140.98 L437.70,140.82 L438.77,140.67 L439.83,140.52 L440.89,140.36 L441.95,140.21 L443.01,140.05 L444.06,139.89 L445.12,139.74 L446.18,139.58 L447.23,139.42 L448.28,139.26 L449.34,139.10 L450.39,138.95 L451.44,138.79 L452.49,138.62 L453.54,138.46 L454.59,138.30 L455.64,138.14 L456.69,137.97 L457.74,137.81 L458.79,137.64 L459.84,137.48 L460.89,137.31 L461.94,137.14 L462.98,136.97 L464.03,136.80 L465.08,136.63 L466.13,136.46 L467.18,136.29 L468.22,136.11 L469.27,135.94 L470.32,135.76 L471.37,135.58 L472.41,135.40 L473.46,135.22 L474.51,135.04 L475.56,134.85 L476.60,134.67 L477.65,134.48 L478.70,134.29 L479.74,134.10 L480.79,133.91 L481.83,133.72 L482.88,133.52 L483.92,133.33 L484.97,133.13 L486.01,132.92 L487.06,132.72 L488.10,132.52 L489.14,132.31 L490.19,132.10 L491.23,131.89 L492.27,131.67 L493.31,131.46 L494.35,131.24 L495.39,131.02 L496.43,130.79 L497.47,130.57 L498.51,130.34 L499.54,130.11 L500.58,129.87 L501.62,129.63 L502.65,129.40 L503.69,129.15 L504.72,128.91 L505.75,128.66 L506.78,128.41 L507.82,128.15 L508.85,127.90 L509.88,127.64 L510.90,127.37 L511.93,127.11 L512.96,126.84 L513.98,126.56 L515.01,126.29 L516.03,126.01 L517.05,125.72 L518.07,125.44 L519.09,125.15 L520.11,124.85 L521.13,124.56 L522.15,124.25 L523.16,123.95 L524.18,123.64 L525.19,123.33 L526.20,123.01 L527.21,122.69 L528.22,122.37 L529.23,122.04 L530.24,121.70 L531.24,121.37 L532.24,121.03 L533.25,120.68 L534.25,120.33 L535.25,119.98 L536.24,119.62 L537.24,119.26 L538.24,118.89 L539.23,118.52 L540.22,118.14 L541.21,117.76 L542.20,117.37 L543.18,116.99 L544.17,116.59 L545.15,116.19 L546.14,115.79 L547.12,115.38 L548.10,114.97 L549.07,114.56 L550.05,114.14 L551.03,113.72 L552.00,113.30 L552.97,112.87 L553.95,112.43 L554.92,112.00 L555.89,111.56 L556.85,111.12 L557.82,110.68 L558.79,110.23 L559.75,109.78 L560.72,109.33 L561.68,108.87 L562.64,108.41 L563.60,107.95 L564.56,107.49 L565.52,107.03 L566.48,106.56 L567.44,106.09 L568.39,105.62 L569.35,105.15 L570.30,104.67 L571.26,104.20 L572.21,103.72 L573.17,103.24 L574.12,102.76 L575.07,102.28 L576.02,101.80 L576.97,101.31 L577.92,100.83 L578.87,100.34 L579.82,99.86 L580.77,99.37 L581.72,98.88 L582.66,98.40 L583.61,97.91 L584.56,97.42 L585.51,96.93 L586.45,96.44 L587.40,95.95 L588.35,95.46 L589.29,94.97 L590.24,94.49 L591.18,94.00 L592.13,93.51 L593.07,93.02 L594.02,92.53 L594.96,92.05 L595.91,91.56 L596.85,91.07 L597.80,90.59 L598.74,90.10 L599.68,89.61 L600.63,89.12 L601.57,88.63 L602.51,88.15 L603.46,87.66 L604.40,87.17 L605.34,86.68 L606.28,86.19 L607.22,85.70 L608.16,85.21 L609.10,84.71 L610.04,84.22 L610.98,83.73 L611.92,83.23 L612.86,82.74 L613.79,82.24 L614.73,81.74 L615.67,81.25 L616.60,80.75 L617.54,80.24 L618.47,79.74 L619.41,79.24 L620.34,78.73 L621.27,78.23 L622.20,77.72 L623.13,77.21 L624.07,76.70 L625.00,76.19 L625.92,75.67 L626.85,75.16 L627.78,74.64 L628.71,74.12 L629.63,73.60 L630.56,73.08 L631.48,72.55 L632.41,72.03 L633.33,71.50 L634.25,70.97 L635.17,70.44 L636.09,69.91 L637.01,69.37 L637.93,68.83 L638.85,68.30 L639.77,67.76 L640.68,67.21 L641.60,66.67 L642.51,66.12 L643.42,65.58 L644.33,65.03 L645.25,64.48 L646.16,63.93 L647.06,63.37 L647.97,62.82 L648.88,62.26 L649.78,61.70 L650.69,61.14 L651.59,60.57 L652.50,60.01 L653.40,59.44 L654.30,58.88 L655.20,58.31 L656.10,57.73 L656.99,57.16 L657.89,56.58 L658.78,56.01 L659.68,55.43 L660.57,54.85 L661.46,54.27 L662.35,53.68 L663.24,53.10 L664.13,52.51 L665.01,51.92 L665.90,51.33 L666.78,50.74 L667.66,50.14 L668.54,49.54 L669.42,48.95 L670.30,48.35 L671.18,47.75 L672.06,47.14 L672.93,46.54 L673.80,45.93 L674.67,45.32 L675.55,44.71 L676.41,44.10 L677.28,43.48 L678.15,42.87 L679.01,42.25 L679.88,41.63 L680.74,41.01 L681.60,40.39 L682.46,39.76 L683.31,39.14 L684.17,38.51 L685.02,37.88 L685.88,37.25 L686.73,36.61 L687.58,35.98 L688.42,35.34 L689.27,34.70 L690.12,34.06 L690.96,33.42 L691.80,32.78 L692.64,32.13 L693.48,31.48 L694.32,30.83 L695.15,30.18 L695.98,29.53 L696.81,28.88 L697.64,28.22" stroke="#f00"/>
</g>
<g clip-path="url(#cc)" stroke-width="1.35">
<path d="M55.9,349.6 L56.4,354.9 L58.5,354.5 L60.6,353.8 L62.2,354.8 L63.8,354.0 L65.4,355.0 L67.0,355.3 L69.1,356.7 L71.2,355.9 L73.3,357.6 L75.5,357.0 L77.6,356.8 L79.7,358.7 L81.8,360.2 L84.0,363.4 L86.1,369.7 L88.2,382.5 L89.3,388.4 L90.3,387.8 L91.4,378.2 L92.5,365.5 L93.5,357.0 L95.1,354.6 L96.7,353.8 L98.8,354.0 L101.0,354.4 L103.1,355.4 L105.2,358.0 L106.8,360.6 L108.4,363.4 L111.6,374.0 L113.7,382.5 L114.8,384.2 L115.8,378.2 L118.0,363.4 L120.0,354.9 L123.2,351.7 L125.5,351.5 L127.7,350.7 L130.0,350.6 L131.8,350.8 L133.6,350.6 L135.4,349.9 L137.2,350.5 L139.0,350.1 L140.8,350.3 L142.6,350.1 L144.4,350.5 L146.2,350.2 L148.0,350.2 L150.0,350.0 L152.0,350.8 L154.0,351.3 L156.0,351.0 L158.0,351.1 L160.0,351.7 L162.8,353.8 L165.5,357.0 L167.6,354.5 L169.7,351.0 L173.8,349.7 L176.1,349.6 L178.4,349.8 L180.7,349.8 L183.0,349.6 L185.3,349.7 L187.6,349.6 L189.9,349.2 L192.2,349.0 L194.5,349.3 L196.8,349.2 L199.1,349.0 L201.4,349.0 L203.6,348.8 L205.8,348.9 L208.0,349.0 L210.2,348.8 L212.5,348.9 L214.7,349.0 L216.9,349.2 L219.1,349.0 L221.3,348.8 L223.5,348.8 L225.7,348.9 L227.9,348.8 L230.2,348.8 L232.4,349.0 L234.6,348.7 L236.8,348.9 L239.0,348.9 L241.2,349.1 L243.4,349.1 L245.7,349.1 L247.9,349.0 L250.1,348.9 L252.3,349.0 L254.5,348.8 L256.7,349.0 L258.9,348.8 L261.1,348.9 L263.4,348.6 L265.6,348.8 L267.8,349.2 L270.0,348.7 L272.2,349.0 L274.4,349.0 L276.6,349.0 L278.8,348.9 L281.1,348.9 L283.3,348.6 L285.5,348.6 L287.7,348.7 L289.9,348.7 L292.1,348.6 L294.3,348.6 L296.5,348.9 L298.8,348.7 L301.0,349.1 L303.2,349.0 L305.4,348.9 L307.6,349.0 L309.8,348.7 L312.0,349.1 L314.2,349.0 L316.4,349.0 L318.7,348.8 L320.9,349.0 L323.1,349.0 L325.3,348.9 L327.5,349.1 L329.7,348.9 L331.9,348.7 L334.1,348.8 L336.4,348.6 L338.6,348.6 L340.8,348.9 L343.0,348.8" stroke="#000"/>
<path d="M86.0,348.5 L95.0,348.1 L107.7,347.0 L113.0,341.7 L116.2,336.4 L117.9,333.9 L119.4,336.0 L121.0,336.7 L122.6,338.6 L124.0,340.0 L125.4,339.1 L126.8,340.3 L128.2,341.5 L129.7,340.8 L131.1,341.1 L132.7,340.1 L134.3,338.6 L136.4,332.2 L138.1,323.7 L139.2,323.3 L140.2,323.7 L141.3,330.0 L142.8,335.4 L144.4,338.0 L146.0,339.6 L148.1,341.0 L150.2,342.4 L151.8,342.7 L153.4,343.1 L155.0,343.5 L156.6,344.9 L158.3,345.5 L160.0,345.2 L161.6,344.9 L163.3,346.5 L165.0,346.0 L175.0,346.6 L181.0,345.5 L183.0,341.5 L185.2,338.2 L187.0,341.0 L189.0,344.8 L193.1,346.5 L200.0,347.2 L202.2,347.0 L204.4,347.1 L206.7,347.1 L208.9,347.3 L211.1,347.3 L213.3,347.3 L215.6,347.0 L217.8,347.0 L220.0,347.0 L222.2,347.1 L224.4,347.0 L226.7,347.0 L228.9,347.5 L231.1,347.5 L233.3,347.0 L235.6,346.9 L237.8,347.0 L240.0,347.3 L242.2,347.4 L244.4,346.9 L246.7,347.3 L248.9,346.9 L251.1,347.2 L253.3,347.3 L255.6,347.5 L257.8,347.0 L260.0,347.2 L262.2,347.4 L264.4,347.4 L266.7,347.5 L268.9,346.8 L271.1,347.1 L273.3,347.5 L275.6,347.1 L277.8,347.3 L280.0,347.1 L282.2,347.3 L284.4,347.1 L286.7,346.7 L288.9,346.8 L291.1,346.8 L293.3,346.9 L295.6,347.3 L297.8,347.1 L300.0,347.0 L302.3,347.1 L304.6,346.9 L307.0,346.9 L309.3,346.9 L311.6,346.6 L313.8,347.0 L316.1,347.1 L318.3,347.2 L320.5,346.8 L322.8,347.1 L325.0,347.3 L327.2,347.0 L329.5,347.5 L331.8,347.7 L334.0,347.2 L336.2,347.4 L338.5,347.6 L340.8,347.6 L343.0,347.8" stroke="#000"/>
<path d="M52.0,348.5 L56.4,350.2 L67.0,351.7 L79.7,353.2 L85.0,357.0 L88.2,365.5 L90.3,376.1 L91.4,393.1 L92.5,427.0 L93.5,393.1 L94.6,361.2 L96.7,354.9 L101.0,354.9 L105.2,357.0 L108.4,365.5 L110.5,378.2 L111.6,380.3 L112.6,371.8 L114.8,359.1 L118.0,353.2 L130.0,351.0 L148.0,349.8 L160.0,351.0 L162.8,353.1 L165.2,355.6 L167.6,352.4 L169.7,349.7 L200.0,349.0 L343.0,348.5" stroke="#f00"/>
<path d="M51.5,348.3 L95.0,347.5 L105.6,346.6 L109.9,344.9 L112.0,340.7 L113.0,323.7 L113.7,291.8 L113.9,273.8 L114.3,291.8 L114.7,323.7 L116.2,338.6 L118.4,342.8 L122.6,344.5 L129.0,343.9 L132.2,340.7 L134.3,327.9 L135.3,313.1 L136.0,300.3 L136.8,313.1 L137.5,327.9 L139.6,338.6 L143.8,342.8 L150.2,344.9 L158.7,346.0 L167.2,346.6 L175.0,347.0 L180.7,346.2 L182.8,342.1 L184.6,338.6 L186.2,342.1 L188.3,345.5 L193.1,346.9 L200.0,347.6 L343.0,348.0" stroke="#f00"/>
</g>
<g clip-path="url(#cd)" stroke-width="1.35">
<path d="M448.2,350.5 L448.8,361.5 L449.6,353.4 L451.2,350.5" stroke="#000"/>
<path d="M451.2,350.5 L454.5,349.7 L456.4,348.9 L458.2,349.5 L460.1,348.8 L462.0,348.9 L463.8,348.9 L465.7,348.1 L467.5,347.5 L469.4,346.9 L471.2,346.3 L474.6,343.0 L476.8,335.2 L479.0,321.8 L480.2,312.9 L481.3,306.2 L482.4,300.7 L483.5,310.7 L484.6,314.0 L486.8,311.8 L489.1,319.6 L491.3,321.8 L493.5,319.6 L495.7,322.9 L497.3,326.3 L498.6,319.6 L500.2,299.5 L501.8,281.7 L502.8,264.0 L503.3,260.2 L504.3,276.0 L505.4,262.6 L506.6,283.0 L507.5,301.7 L508.9,305.2 L509.8,313.4 L510.5,322.8 L512.9,326.3 L515.2,328.6 L516.8,327.4 L518.7,334.4 L521.0,336.8 L523.4,340.3 L524.9,339.6 L526.5,340.4 L528.0,341.4 L529.6,341.3 L531.1,341.6 L532.7,341.0 L534.3,342.6 L535.8,342.2 L537.4,343.3 L539.0,342.6 L540.5,343.5 L542.1,344.5 L543.6,345.3 L545.2,343.3 L546.7,343.8 L547.9,336.8 L549.5,325.1 L550.9,315.7 L552.6,322.8 L554.2,334.4 L556.1,342.6 L558.4,344.3 L560.7,346.1 L562.6,346.6 L564.5,345.3 L566.3,346.0 L568.2,346.4 L570.1,345.7 L572.5,345.0 L574.8,345.0 L577.1,345.3 L579.5,346.0 L581.8,345.7 L583.6,345.2 L585.4,345.8 L587.3,346.2 L589.1,346.1 L590.9,345.9 L592.7,345.5 L594.5,346.0 L596.4,345.8 L598.2,346.0 L600.0,346.1 L601.9,345.9 L603.7,346.6 L605.6,346.6 L607.5,345.9 L609.4,346.3 L611.2,345.9 L613.1,346.2 L615.0,346.1 L616.9,346.6 L618.7,346.2 L620.6,346.3 L622.5,346.7 L624.4,346.3 L626.2,347.0 L628.1,346.5 L629.9,346.1 L631.8,346.9 L633.6,346.5 L635.5,346.5 L637.3,346.8 L639.1,346.7 L641.0,346.6 L642.8,346.0 L644.7,346.2 L646.5,347.1 L648.3,346.8 L650.2,347.1 L652.0,347.5 L653.8,347.1 L655.7,346.3 L657.5,346.7 L659.4,347.1 L661.2,347.0 L663.3,346.4 L665.4,347.3 L667.4,347.0 L669.5,346.2 L671.5,346.2 L673.5,345.3 L675.4,345.4 L677.4,343.9 L679.4,344.0 L681.5,344.3 L683.5,345.0 L685.6,346.0 L687.7,346.2 L689.7,346.4 L691.7,346.1 L693.6,346.6 L695.6,346.8 L697.6,347.3 L699.7,347.2 L701.7,347.2 L703.8,347.7 L705.8,347.9 L707.9,348.5 L709.9,348.7 L712.0,348.5" stroke="#000"/>
<path d="M414.9,350.5 L423.4,352.2 L432.3,353.8 L440.0,355.9 L445.9,358.8 L448.8,361.7 L450.7,368.6 L452.1,374.4 L453.7,384.2 L454.6,388.1 L455.6,398.8 L456.4,445.0 L457.0,408.6 L457.6,361.7 L458.6,355.9 L461.5,353.9 L465.4,354.9 L469.3,358.8 L472.2,365.6 L474.2,375.4 L475.5,387.1 L476.7,379.3 L478.1,367.6 L480.0,357.8 L483.0,353.9 L490.0,352.9 L500.0,352.5 L518.7,353.1 L525.7,354.3 L528.0,356.6 L529.9,357.8 L532.7,354.3 L537.4,351.5 L600.0,350.8 L712.0,350.5" stroke="#f00"/>
<path d="M414.5,350.3 L454.5,349.7 L467.9,348.5 L473.5,344.1 L475.7,335.2 L476.8,321.8 L477.5,299.5 L477.9,255.0 L478.6,299.5 L479.5,321.8 L481.3,337.4 L485.7,344.1 L492.4,346.3 L496.9,344.1 L499.1,333.0 L500.2,310.7 L500.9,292.9 L501.5,300.0 L501.9,325.1 L502.8,334.4 L504.7,339.1 L509.3,342.6 L518.7,345.0 L535.0,346.8 L545.6,347.3 L547.9,341.4 L549.5,338.6 L551.4,343.8 L554.9,348.5 L600.0,350.3 L712.0,350.3" stroke="#f00"/>
</g>
</g>
<g font-family="Liberation Sans, sans-serif" font-size="12.4" fill="#111" stroke="#111" stroke-width="0.22">
<line x1="37.55" y1="213.1" x2="37.55" y2="209.6" stroke="#888" stroke-width="0.8"/>
<line x1="37.55" y1="28.05" x2="37.55" y2="31.55" stroke="#888" stroke-width="0.8"/>
<text transform="translate(37.55,224.60) scale(0.95,1)" text-anchor="middle">0.0</text>
<line x1="81.14" y1="213.1" x2="81.14" y2="209.6" stroke="#888" stroke-width="0.8"/>
<line x1="81.14" y1="28.05" x2="81.14" y2="31.55" stroke="#888" stroke-width="0.8"/>
<text transform="translate(81.14,224.60) scale(0.95,1)" text-anchor="middle">0.5</text>
<line x1="124.74" y1="213.1" x2="124.74" y2="209.6" stroke="#888" stroke-width="0.8"/>
<line x1="124.74" y1="28.05" x2="124.74" y2="31.55" stroke="#888" stroke-width="0.8"/>
<text transform="translate(124.74,224.60) scale(0.95,1)" text-anchor="middle">1.0</text>
<line x1="168.33" y1="213.1" x2="168.33" y2="209.6" stroke="#888" stroke-width="0.8"/>
<line x1="168.33" y1="28.05" x2="168.33" y2="31.55" stroke="#888" stroke-width="0.8"/>
<text transform="translate(168.33,224.60) scale(0.95,1)" text-anchor="middle">1.5</text>
<line x1="211.92" y1="213.1" x2="211.92" y2="209.6" stroke="#888" stroke-width="0.8"/>
<line x1="211.92" y1="28.05" x2="211.92" y2="31.55" stroke="#888" stroke-width="0.8"/>
<text transform="translate(211.92,224.60) scale(0.95,1)" text-anchor="middle">2.0</text>
<line x1="255.51" y1="213.1" x2="255.51" y2="209.6" stroke="#888" stroke-width="0.8"/>
<line x1="255.51" y1="28.05" x2="255.51" y2="31.55" stroke="#888" stroke-width="0.8"/>
<text transform="translate(255.51,224.60) scale(0.95,1)" text-anchor="middle">2.5</text>
<line x1="299.11" y1="213.1" x2="299.11" y2="209.6" stroke="#888" stroke-width="0.8"/>
<line x1="299.11" y1="28.05" x2="299.11" y2="31.55" stroke="#888" stroke-width="0.8"/>
<text transform="translate(299.11,224.60) scale(0.95,1)" text-anchor="middle">3.0</text>
<line x1="342.70" y1="213.1" x2="342.70" y2="209.6" stroke="#888" stroke-width="0.8"/>
<line x1="342.70" y1="28.05" x2="342.70" y2="31.55" stroke="#888" stroke-width="0.8"/>
<text transform="translate(342.70,224.60) scale(0.95,1)" text-anchor="middle">3.5</text>
<line x1="411.80" y1="213.1" x2="411.80" y2="209.6" stroke="#888" stroke-width="0.8"/>
<line x1="411.80" y1="28.05" x2="411.80" y2="31.55" stroke="#888" stroke-width="0.8"/>
<text transform="translate(411.80,224.60) scale(0.95,1)" text-anchor="middle">0.0</text>
<line x1="455.41" y1="213.1" x2="455.41" y2="209.6" stroke="#888" stroke-width="0.8"/>
<line x1="455.41" y1="28.05" x2="455.41" y2="31.55" stroke="#888" stroke-width="0.8"/>
<text transform="translate(455.41,224.60) scale(0.95,1)" text-anchor="middle">0.5</text>
<line x1="499.01" y1="213.1" x2="499.01" y2="209.6" stroke="#888" stroke-width="0.8"/>
<line x1="499.01" y1="28.05" x2="499.01" y2="31.55" stroke="#888" stroke-width="0.8"/>
<text transform="translate(499.01,224.60) scale(0.95,1)" text-anchor="middle">1.0</text>
<line x1="542.62" y1="213.1" x2="542.62" y2="209.6" stroke="#888" stroke-width="0.8"/>
<line x1="542.62" y1="28.05" x2="542.62" y2="31.55" stroke="#888" stroke-width="0.8"/>
<text transform="translate(542.62,224.60) scale(0.95,1)" text-anchor="middle">1.5</text>
<line x1="586.23" y1="213.1" x2="586.23" y2="209.6" stroke="#888" stroke-width="0.8"/>
<line x1="586.23" y1="28.05" x2="586.23" y2="31.55" stroke="#888" stroke-width="0.8"/>
<text transform="translate(586.23,224.60) scale(0.95,1)" text-anchor="middle">2.0</text>
<line x1="629.84" y1="213.1" x2="629.84" y2="209.6" stroke="#888" stroke-width="0.8"/>
<line x1="629.84" y1="28.05" x2="629.84" y2="31.55" stroke="#888" stroke-width="0.8"/>
<text transform="translate(629.84,224.60) scale(0.95,1)" text-anchor="middle">2.5</text>
<line x1="673.44" y1="213.1" x2="673.44" y2="209.6" stroke="#888" stroke-width="0.8"/>
<line x1="673.44" y1="28.05" x2="673.44" y2="31.55" stroke="#888" stroke-width="0.8"/>
<text transform="translate(673.44,224.60) scale(0.95,1)" text-anchor="middle">3.0</text>
<line x1="717.05" y1="213.1" x2="717.05" y2="209.6" stroke="#888" stroke-width="0.8"/>
<line x1="717.05" y1="28.05" x2="717.05" y2="31.55" stroke="#888" stroke-width="0.8"/>
<text transform="translate(717.05,224.60) scale(0.95,1)" text-anchor="middle">3.5</text>
<line x1="37.55" y1="213.10" x2="41.05" y2="213.10" stroke="#888" stroke-width="0.8"/>
<line x1="342.7" y1="213.10" x2="339.2" y2="213.10" stroke="#888" stroke-width="0.8"/>
<text transform="translate(34.15,217.60) scale(0.95,1)" text-anchor="end">0.0</text>
<line x1="37.55" y1="166.84" x2="41.05" y2="166.84" stroke="#888" stroke-width="0.8"/>
<line x1="342.7" y1="166.84" x2="339.2" y2="166.84" stroke="#888" stroke-width="0.8"/>
<text transform="translate(34.15,171.34) scale(0.95,1)" text-anchor="end">0.5</text>
<line x1="37.55" y1="120.58" x2="41.05" y2="120.58" stroke="#888" stroke-width="0.8"/>
<line x1="342.7" y1="120.58" x2="339.2" y2="120.58" stroke="#888" stroke-width="0.8"/>
<text transform="translate(34.15,125.08) scale(0.95,1)" text-anchor="end">1.0</text>
<line x1="37.55" y1="74.31" x2="41.05" y2="74.31" stroke="#888" stroke-width="0.8"/>
<line x1="342.7" y1="74.31" x2="339.2" y2="74.31" stroke="#888" stroke-width="0.8"/>
<text transform="translate(34.15,78.81) scale(0.95,1)" text-anchor="end">1.5</text>
<line x1="37.55" y1="28.05" x2="41.05" y2="28.05" stroke="#888" stroke-width="0.8"/>
<line x1="342.7" y1="28.05" x2="339.2" y2="28.05" stroke="#888" stroke-width="0.8"/>
<text transform="translate(34.15,32.55) scale(0.95,1)" text-anchor="end">2.0</text>
<line x1="411.8" y1="213.10" x2="415.3" y2="213.10" stroke="#888" stroke-width="0.8"/>
<line x1="717.05" y1="213.10" x2="713.55" y2="213.10" stroke="#888" stroke-width="0.8"/>
<text transform="translate(408.40,217.60) scale(0.95,1)" text-anchor="end">3.2</text>
<line x1="411.8" y1="184.63" x2="415.3" y2="184.63" stroke="#888" stroke-width="0.8"/>
<line x1="717.05" y1="184.63" x2="713.55" y2="184.63" stroke="#888" stroke-width="0.8"/>
<text transform="translate(408.40,189.13) scale(0.95,1)" text-anchor="end">3.4</text>
<line x1="411.8" y1="156.16" x2="415.3" y2="156.16" stroke="#888" stroke-width="0.8"/>
<line x1="717.05" y1="156.16" x2="713.55" y2="156.16" stroke="#888" stroke-width="0.8"/>
<text transform="translate(408.40,160.66) scale(0.95,1)" text-anchor="end">3.6</text>
<line x1="411.8" y1="127.69" x2="415.3" y2="127.69" stroke="#888" stroke-width="0.8"/>
<line x1="717.05" y1="127.69" x2="713.55" y2="127.69" stroke="#888" stroke-width="0.8"/>
<text transform="translate(408.40,132.19) scale(0.95,1)" text-anchor="end">3.8</text>
<line x1="411.8" y1="99.22" x2="415.3" y2="99.22" stroke="#888" stroke-width="0.8"/>
<line x1="717.05" y1="99.22" x2="713.55" y2="99.22" stroke="#888" stroke-width="0.8"/>
<text transform="translate(408.40,103.72) scale(0.95,1)" text-anchor="end">4.0</text>
<line x1="411.8" y1="70.75" x2="415.3" y2="70.75" stroke="#888" stroke-width="0.8"/>
<line x1="717.05" y1="70.75" x2="713.55" y2="70.75" stroke="#888" stroke-width="0.8"/>
<text transform="translate(408.40,75.25) scale(0.95,1)" text-anchor="end">4.2</text>
<line x1="411.8" y1="42.28" x2="415.3" y2="42.28" stroke="#888" stroke-width="0.8"/>
<line x1="717.05" y1="42.28" x2="713.55" y2="42.28" stroke="#888" stroke-width="0.8"/>
<text transform="translate(408.40,46.78) scale(0.95,1)" text-anchor="end">4.4</text>
<line x1="51.05" y1="437.05" x2="51.05" y2="433.55" stroke="#888" stroke-width="0.8"/>
<line x1="51.05" y1="260.1" x2="51.05" y2="263.6" stroke="#888" stroke-width="0.8"/>
<text transform="translate(51.05,448.55) scale(0.95,1)" text-anchor="middle">0.0</text>
<line x1="109.51" y1="437.05" x2="109.51" y2="433.55" stroke="#888" stroke-width="0.8"/>
<line x1="109.51" y1="260.1" x2="109.51" y2="263.6" stroke="#888" stroke-width="0.8"/>
<text transform="translate(109.51,448.55) scale(0.95,1)" text-anchor="middle">0.1</text>
<line x1="167.97" y1="437.05" x2="167.97" y2="433.55" stroke="#888" stroke-width="0.8"/>
<line x1="167.97" y1="260.1" x2="167.97" y2="263.6" stroke="#888" stroke-width="0.8"/>
<text transform="translate(167.97,448.55) scale(0.95,1)" text-anchor="middle">0.2</text>
<line x1="226.43" y1="437.05" x2="226.43" y2="433.55" stroke="#888" stroke-width="0.8"/>
<line x1="226.43" y1="260.1" x2="226.43" y2="263.6" stroke="#888" stroke-width="0.8"/>
<text transform="translate(226.43,448.55) scale(0.95,1)" text-anchor="middle">0.3</text>
<line x1="284.89" y1="437.05" x2="284.89" y2="433.55" stroke="#888" stroke-width="0.8"/>
<line x1="284.89" y1="260.1" x2="284.89" y2="263.6" stroke="#888" stroke-width="0.8"/>
<text transform="translate(284.89,448.55) scale(0.95,1)" text-anchor="middle">0.4</text>
<line x1="343.35" y1="437.05" x2="343.35" y2="433.55" stroke="#888" stroke-width="0.8"/>
<line x1="343.35" y1="260.1" x2="343.35" y2="263.6" stroke="#888" stroke-width="0.8"/>
<text transform="translate(343.35,448.55) scale(0.95,1)" text-anchor="middle">0.5</text>
<line x1="414.25" y1="441.05" x2="414.25" y2="437.55" stroke="#888" stroke-width="0.8"/>
<line x1="414.25" y1="260.6" x2="414.25" y2="264.1" stroke="#888" stroke-width="0.8"/>
<text transform="translate(414.25,452.55) scale(0.95,1)" text-anchor="middle">0.0</text>
<line x1="473.81" y1="441.05" x2="473.81" y2="437.55" stroke="#888" stroke-width="0.8"/>
<line x1="473.81" y1="260.6" x2="473.81" y2="264.1" stroke="#888" stroke-width="0.8"/>
<text transform="translate(473.81,452.55) scale(0.95,1)" text-anchor="middle">0.1</text>
<line x1="533.37" y1="441.05" x2="533.37" y2="437.55" stroke="#888" stroke-width="0.8"/>
<line x1="533.37" y1="260.6" x2="533.37" y2="264.1" stroke="#888" stroke-width="0.8"/>
<text transform="translate(533.37,452.55) scale(0.95,1)" text-anchor="middle">0.2</text>
<line x1="592.93" y1="441.05" x2="592.93" y2="437.55" stroke="#888" stroke-width="0.8"/>
<line x1="592.93" y1="260.6" x2="592.93" y2="264.1" stroke="#888" stroke-width="0.8"/>
<text transform="translate(592.93,452.55) scale(0.95,1)" text-anchor="middle">0.3</text>
<line x1="652.49" y1="441.05" x2="652.49" y2="437.55" stroke="#888" stroke-width="0.8"/>
<line x1="652.49" y1="260.6" x2="652.49" y2="264.1" stroke="#888" stroke-width="0.8"/>
<text transform="translate(652.49,452.55) scale(0.95,1)" text-anchor="middle">0.4</text>
<line x1="712.05" y1="441.05" x2="712.05" y2="437.55" stroke="#888" stroke-width="0.8"/>
<line x1="712.05" y1="260.6" x2="712.05" y2="264.1" stroke="#888" stroke-width="0.8"/>
<text transform="translate(712.05,452.55) scale(0.95,1)" text-anchor="middle">0.5</text>
<line x1="51.05" y1="437.05" x2="54.55" y2="437.05" stroke="#888" stroke-width="0.8"/>
<line x1="343.35" y1="437.05" x2="339.85" y2="437.05" stroke="#888" stroke-width="0.8"/>
<text transform="translate(47.65,441.55) scale(0.95,1)" text-anchor="end">−0.20</text>
<line x1="51.05" y1="414.93" x2="54.55" y2="414.93" stroke="#888" stroke-width="0.8"/>
<line x1="343.35" y1="414.93" x2="339.85" y2="414.93" stroke="#888" stroke-width="0.8"/>
<text transform="translate(47.65,419.43) scale(0.95,1)" text-anchor="end">−0.15</text>
<line x1="51.05" y1="392.81" x2="54.55" y2="392.81" stroke="#888" stroke-width="0.8"/>
<line x1="343.35" y1="392.81" x2="339.85" y2="392.81" stroke="#888" stroke-width="0.8"/>
<text transform="translate(47.65,397.31) scale(0.95,1)" text-anchor="end">−0.10</text>
<line x1="51.05" y1="370.69" x2="54.55" y2="370.69" stroke="#888" stroke-width="0.8"/>
<line x1="343.35" y1="370.69" x2="339.85" y2="370.69" stroke="#888" stroke-width="0.8"/>
<text transform="translate(47.65,375.19) scale(0.95,1)" text-anchor="end">−0.05</text>
<line x1="51.05" y1="348.58" x2="54.55" y2="348.58" stroke="#888" stroke-width="0.8"/>
<line x1="343.35" y1="348.58" x2="339.85" y2="348.58" stroke="#888" stroke-width="0.8"/>
<text transform="translate(47.65,353.08) scale(0.95,1)" text-anchor="end">0.00</text>
<line x1="51.05" y1="326.46" x2="54.55" y2="326.46" stroke="#888" stroke-width="0.8"/>
<line x1="343.35" y1="326.46" x2="339.85" y2="326.46" stroke="#888" stroke-width="0.8"/>
<text transform="translate(47.65,330.96) scale(0.95,1)" text-anchor="end">0.05</text>
<line x1="51.05" y1="304.34" x2="54.55" y2="304.34" stroke="#888" stroke-width="0.8"/>
<line x1="343.35" y1="304.34" x2="339.85" y2="304.34" stroke="#888" stroke-width="0.8"/>
<text transform="translate(47.65,308.84) scale(0.95,1)" text-anchor="end">0.10</text>
<line x1="51.05" y1="282.22" x2="54.55" y2="282.22" stroke="#888" stroke-width="0.8"/>
<line x1="343.35" y1="282.22" x2="339.85" y2="282.22" stroke="#888" stroke-width="0.8"/>
<text transform="translate(47.65,286.72) scale(0.95,1)" text-anchor="end">0.15</text>
<line x1="51.05" y1="260.10" x2="54.55" y2="260.10" stroke="#888" stroke-width="0.8"/>
<line x1="343.35" y1="260.10" x2="339.85" y2="260.10" stroke="#888" stroke-width="0.8"/>
<text transform="translate(47.65,264.60) scale(0.95,1)" text-anchor="end">0.20</text>
<line x1="414.25" y1="441.05" x2="417.75" y2="441.05" stroke="#888" stroke-width="0.8"/>
<line x1="712.05" y1="441.05" x2="708.55" y2="441.05" stroke="#888" stroke-width="0.8"/>
<text transform="translate(410.85,445.55) scale(0.95,1)" text-anchor="end">−1.0</text>
<line x1="414.25" y1="395.94" x2="417.75" y2="395.94" stroke="#888" stroke-width="0.8"/>
<line x1="712.05" y1="395.94" x2="708.55" y2="395.94" stroke="#888" stroke-width="0.8"/>
<text transform="translate(410.85,400.44) scale(0.95,1)" text-anchor="end">−0.5</text>
<line x1="414.25" y1="350.83" x2="417.75" y2="350.83" stroke="#888" stroke-width="0.8"/>
<line x1="712.05" y1="350.83" x2="708.55" y2="350.83" stroke="#888" stroke-width="0.8"/>
<text transform="translate(410.85,355.33) scale(0.95,1)" text-anchor="end">0.0</text>
<line x1="414.25" y1="305.71" x2="417.75" y2="305.71" stroke="#888" stroke-width="0.8"/>
<line x1="712.05" y1="305.71" x2="708.55" y2="305.71" stroke="#888" stroke-width="0.8"/>
<text transform="translate(410.85,310.21) scale(0.95,1)" text-anchor="end">0.5</text>
<line x1="414.25" y1="260.60" x2="417.75" y2="260.60" stroke="#888" stroke-width="0.8"/>
<line x1="712.05" y1="260.60" x2="708.55" y2="260.60" stroke="#888" stroke-width="0.8"/>
<text transform="translate(410.85,265.10) scale(0.95,1)" text-anchor="end">1.0</text>
<line x1="37.55" y1="28.05" x2="37.55" y2="213.1" stroke="#646464" stroke-width="1.5" stroke-linecap="square"/>
<line x1="37.55" y1="28.05" x2="342.7" y2="28.05" stroke="#646464" stroke-width="1.5" stroke-linecap="square"/>
<line x1="342.7" y1="28.05" x2="342.7" y2="213.1" stroke="#878787" stroke-width="1.9" stroke-linecap="square"/>
<line x1="37.55" y1="213.1" x2="342.7" y2="213.1" stroke="#646464" stroke-width="1.5" stroke-linecap="square"/>
<line x1="411.8" y1="28.05" x2="411.8" y2="213.1" stroke="#767676" stroke-width="1.8" stroke-linecap="square"/>
<line x1="411.8" y1="28.05" x2="717.05" y2="28.05" stroke="#555555" stroke-width="1.5" stroke-linecap="square"/>
<line x1="717.05" y1="28.05" x2="717.05" y2="213.1" stroke="#999999" stroke-width="1.9" stroke-linecap="square"/>
<line x1="411.8" y1="213.1" x2="717.05" y2="213.1" stroke="#666666" stroke-width="1.5" stroke-linecap="square"/>
<line x1="51.05" y1="260.1" x2="51.05" y2="437.05" stroke="#ababab" stroke-width="1.9" stroke-linecap="square"/>
<line x1="51.05" y1="260.1" x2="343.35" y2="260.1" stroke="#565656" stroke-width="1.45" stroke-linecap="square"/>
<line x1="343.35" y1="260.1" x2="343.35" y2="437.05" stroke="#474747" stroke-width="1.4" stroke-linecap="square"/>
<line x1="51.05" y1="437.05" x2="343.35" y2="437.05" stroke="#a8a8a8" stroke-width="1.8" stroke-linecap="square"/>
<line x1="414.25" y1="260.6" x2="414.25" y2="441.05" stroke="#555555" stroke-width="1.5" stroke-linecap="square"/>
<line x1="414.25" y1="260.6" x2="712.05" y2="260.6" stroke="#555555" stroke-width="1.5" stroke-linecap="square"/>
<line x1="712.05" y1="260.6" x2="712.05" y2="441.05" stroke="#666666" stroke-width="1.5" stroke-linecap="square"/>
<line x1="414.25" y1="441.05" x2="712.05" y2="441.05" stroke="#555555" stroke-width="1.5" stroke-linecap="square"/>
</g>
<g font-family="Liberation Sans, sans-serif" font-size="12.0" fill="#111">
<text x="190.1" y="239.5" text-anchor="middle" textLength="84" lengthAdjust="spacingAndGlyphs">Capacity (mAh)</text>
<text x="564.4" y="239.5" text-anchor="middle" textLength="84" lengthAdjust="spacingAndGlyphs">Capacity (mAh)</text>
<text x="143.40" y="463.2" textLength="55.20" lengthAdjust="spacingAndGlyphs">Voltage (V</text>
<text x="201.90" y="463.2" textLength="11.50" lengthAdjust="spacingAndGlyphs">vs</text>
<text x="216.50" y="463.2" textLength="9.50" lengthAdjust="spacingAndGlyphs">Li</text>
<line x1="230.3" y1="454.6" x2="230.3" y2="458.6" stroke="#666" stroke-width="0.9"/>
<text x="234.80" y="463.2" textLength="16.30" lengthAdjust="spacingAndGlyphs">/Li)</text>
<text x="508.70" y="467.1" textLength="55.70" lengthAdjust="spacingAndGlyphs">Voltage (V</text>
<text x="568.10" y="467.1" textLength="12.40" lengthAdjust="spacingAndGlyphs">vs</text>
<text x="583.10" y="467.1" textLength="9.60" lengthAdjust="spacingAndGlyphs">Li</text>
<text x="594.6" y="462.8" font-size="7.5" textLength="4.9" lengthAdjust="spacingAndGlyphs">−</text>
<text x="601.90" y="467.1" textLength="15.80" lengthAdjust="spacingAndGlyphs">/Li)</text>
<text transform="translate(10.7,178.40) rotate(-90)" x="0" textLength="58.30" lengthAdjust="spacingAndGlyphs">Voltage (V</text>
<text transform="translate(10.7,116.70) rotate(-90)" x="0" textLength="15.30" lengthAdjust="spacingAndGlyphs">vs.</text>
<text transform="translate(10.7,97.60) rotate(-90)" x="0" textLength="9.80" lengthAdjust="spacingAndGlyphs">Li</text>
<text transform="translate(6.3999999999999995,85.90) rotate(-90)" x="0" textLength="5.50" lengthAdjust="spacingAndGlyphs" font-size="7.5">+</text>
<text transform="translate(10.7,78.70) rotate(-90)" x="0" textLength="17.20" lengthAdjust="spacingAndGlyphs">/Li)</text>
<text transform="translate(385.4,178.40) rotate(-90)" x="0" textLength="58.30" lengthAdjust="spacingAndGlyphs">Voltage (V</text>
<text transform="translate(385.4,116.70) rotate(-90)" x="0" textLength="15.30" lengthAdjust="spacingAndGlyphs">vs.</text>
<text transform="translate(385.4,97.60) rotate(-90)" x="0" textLength="9.80" lengthAdjust="spacingAndGlyphs">Li</text>
<text transform="translate(381.09999999999997,85.90) rotate(-90)" x="0" textLength="5.50" lengthAdjust="spacingAndGlyphs" font-size="7.5">+</text>
<text transform="translate(385.4,78.70) rotate(-90)" x="0" textLength="17.20" lengthAdjust="spacingAndGlyphs">/Li)</text>
<text transform="translate(10.0,395.30) rotate(-90)" x="0" textLength="76.00" lengthAdjust="spacingAndGlyphs">dQ/dV (mAh V</text>
<text transform="translate(4.6,317.80) rotate(-90)" x="0" textLength="9.60" lengthAdjust="spacingAndGlyphs" font-size="7.5">−1</text>
<text transform="translate(10.0,307.80) rotate(-90)" x="0" textLength="5.50" lengthAdjust="spacingAndGlyphs">)</text>
<text transform="translate(378.8,405.10) rotate(-90)" x="0" textLength="108.40" lengthAdjust="spacingAndGlyphs">dQ/dV (Normalized)</text>
</g>
<g font-family="Liberation Sans, sans-serif" font-size="15.8" fill="#111">
<text transform="translate(6.6,14.0) scale(0.99,1)">(a)</text>
<text transform="translate(370.3,14.0) scale(1.08,1)">(b)</text>
<text transform="translate(6.4,255.6) scale(0.99,1)">(c)</text>
<text transform="translate(370.2,255.6) scale(1.1,1)">(d)</text>
</g>
<rect x="573.1" y="400.5" width="134.0" height="35" fill="#fff" stroke="#4a4a4a" stroke-width="1.3"/>
<line x1="579.6" y1="409.3" x2="595.9" y2="409.3" stroke="#2a2a2a" stroke-width="1.7"/>
<line x1="579.6" y1="425.1" x2="595.9" y2="425.1" stroke="#ff3c3c" stroke-width="1.8"/>
<g font-family="Liberation Sans, sans-serif" font-size="11.2" fill="#111">
<text x="607" y="413.2" textLength="78" lengthAdjust="spacingAndGlyphs">5 cycles - C/50</text>
<text x="607" y="428.6" textLength="95.5" lengthAdjust="spacingAndGlyphs">750 cycles - C/2.5</text>
</g>
</svg>
</body></html>
